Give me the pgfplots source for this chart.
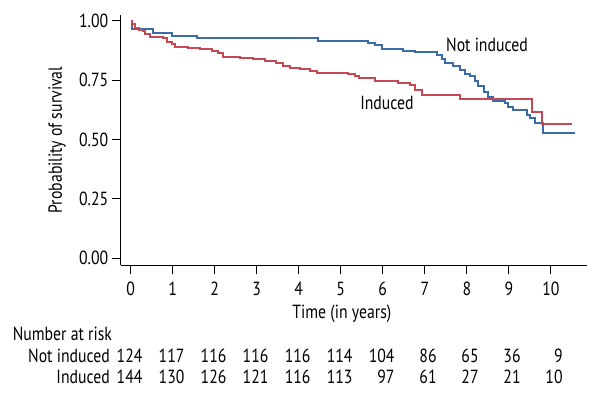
\documentclass[border=0pt]{standalone}
\usepackage{pgfplots}
\pgfplotsset{compat=1.18}
\usepackage{fontspec}
\setmainfont{PT Sans}[FakeStretch=0.83]

\definecolor{notind}{RGB}{58,108,168}
\definecolor{ind}{RGB}{198,72,84}

\begin{document}
\begin{tikzpicture}[font=\fontsize{19}{22}\selectfont]
\path[use as bounding box] (0,0) rectangle (600pt,-400pt);
\begin{axis}[
    at={(121pt,-265pt)}, anchor=south west,
    scale only axis,
    width=466pt, height=250pt,
    xmin=-0.23, xmax=10.86,
    ymin=-0.0295, ymax=1.024,
    axis lines=left,
    axis line style={-, line width=1pt},
    clip=false,
    tick align=outside,
    major tick length=9pt,
    tick style={black, line width=1pt},
    xtick={0,1,...,10},
    ytick={0,0.25,0.5,0.75,1},
    /pgf/number format/assume math mode=true,
    yticklabel style={/pgf/number format/fixed, /pgf/number format/fixed zerofill,
        /pgf/number format/precision=2, inner sep=0pt, xshift=-3.5pt},
    xticklabel style={inner sep=0pt, yshift=-8pt},
    xlabel={Time (in years)},
    xlabel style={at={(axis description cs:0.474,0)}, anchor=center, yshift=-49pt},
    ylabel={Probability of survival},
    ylabel style={at={(axis description cs:0,0.5)}, anchor=center, yshift=64pt},
]
% Not induced
\addplot[const plot, notind, line width=2pt] coordinates {
(0,1) (0.03,0.965) (0.54,0.948) (0.98,0.937) (1.57,0.929) (4.45,0.915)
(5.64,0.906) (5.82,0.896) (5.97,0.880) (6.49,0.873) (6.77,0.866)
(7.29,0.856) (7.40,0.838) (7.48,0.821) (7.68,0.811) (7.84,0.793)
(7.96,0.776) (8.08,0.765) (8.20,0.744) (8.27,0.723) (8.40,0.701)
(8.51,0.680) (8.63,0.662) (8.91,0.652) (8.99,0.638) (9.11,0.624)
(9.43,0.603) (9.51,0.589) (9.63,0.568) (9.82,0.528) (10.58,0.528)};
% Induced
\addplot[const plot, ind, line width=2pt] coordinates {
(0,1) (0.03,0.985) (0.10,0.970) (0.20,0.962) (0.29,0.955) (0.35,0.942)
(0.45,0.932) (0.77,0.926) (0.86,0.912) (0.98,0.902) (1.05,0.891)
(1.37,0.887) (1.65,0.880) (1.93,0.873) (2.09,0.864) (2.20,0.849)
(2.60,0.844) (2.90,0.838) (3.20,0.831) (3.45,0.820) (3.63,0.810)
(3.78,0.802) (4.03,0.796) (4.27,0.789) (4.43,0.781) (5.18,0.775)
(5.34,0.769) (5.44,0.760) (5.82,0.746) (6.37,0.736) (6.65,0.729)
(6.77,0.708) (6.93,0.689) (7.84,0.668) (9.55,0.616) (9.79,0.564)
(10.50,0.564)};
\node[anchor=base] at (axis cs:8.48,0.869) {Not induced};
\node[anchor=base] at (axis cs:6.10,0.627) {Induced};
% Number at risk
\addplot[draw=none, nodes near coords, point meta=explicit symbolic,
    every node near coord/.append style={anchor=base east, inner sep=0pt, xshift=12pt, yshift=0pt}]
    table[meta=n] {
t y n
0 -0.441 124
1 -0.441 117
2 -0.441 116
3 -0.441 116
4 -0.441 116
5 -0.441 114
6 -0.441 104
7 -0.441 86
8 -0.441 65
9 -0.441 36
10 -0.441 9
};
\addplot[draw=none, nodes near coords, point meta=explicit symbolic,
    every node near coord/.append style={anchor=base east, inner sep=0pt, xshift=12pt, yshift=0pt}]
    table[meta=n] {
t y n
0 -0.528 144
1 -0.528 130
2 -0.528 126
3 -0.528 121
4 -0.528 116
5 -0.528 113
6 -0.528 97
7 -0.528 61
8 -0.528 27
9 -0.528 21
10 -0.528 10
};
\node[anchor=base west, inner sep=0pt] at (axis cs:-2.81,-0.347) {Number at risk};
\node[anchor=base east, inner sep=0pt] at (axis cs:-0.49,-0.441) {Not induced};
\node[anchor=base east, inner sep=0pt] at (axis cs:-0.49,-0.528) {Induced};
\end{axis}
\end{tikzpicture}
\end{document}
